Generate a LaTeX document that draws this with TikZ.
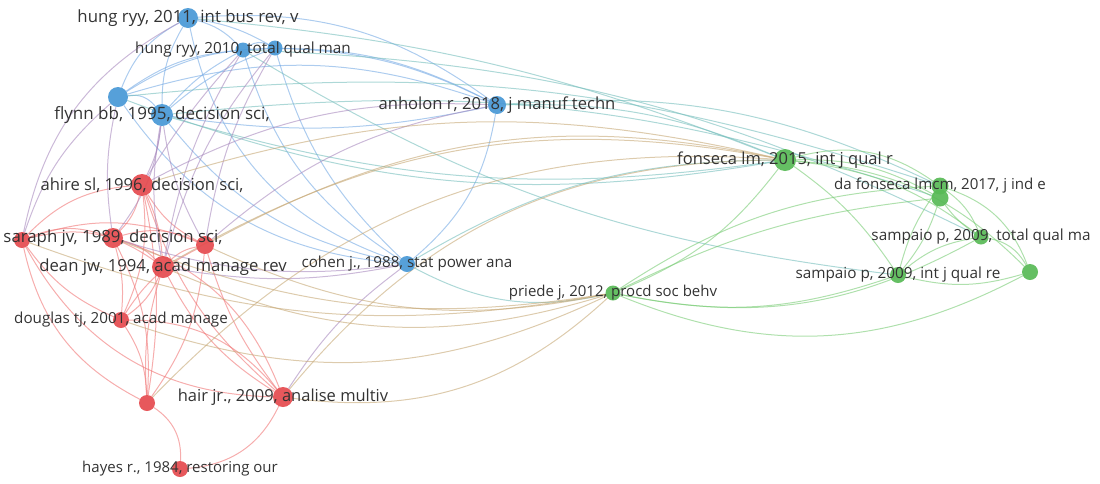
\documentclass[tikz,border=0pt]{standalone}
\usepackage{fontspec}
\setmainfont{Open Sans}
\usepackage{tikz}
\usetikzlibrary{topaths}
\pgfdeclarelayer{bg}
\pgfsetlayers{bg,main}
\definecolor{bnode}{RGB}{72,152,214}
\definecolor{rnode}{RGB}{229,74,78}
\definecolor{gnode}{RGB}{88,186,86}
\definecolor{bedge}{RGB}{118,170,228}
\definecolor{redge}{RGB}{240,118,118}
\definecolor{gedge}{RGB}{122,204,118}
\definecolor{pedge}{RGB}{168,138,190}
\definecolor{oedge}{RGB}{198,168,118}
\definecolor{tedge}{RGB}{118,190,188}
\definecolor{ltxt}{RGB}{51,51,51}
\tikzstyle{dot}=[circle,inner sep=0pt,outer sep=0pt,fill opacity=.92]
\tikzstyle{lbl}=[text=ltxt,inner sep=0pt]
\tikzstyle{lnk}=[line width=1pt,draw opacity=.6]
\tikzstyle{net}=[x=1pt,y=-1pt]

\begin{document}
\begin{tikzpicture}[net]
                    \useasboundingbox (0,0) rectangle (1100,483);
                    \foreach \p/\n/\s/\d in {{188,18}/hung11/20/bnode, {243,50}/hung10/15/bnode, {275,48}/tqm/15/bnode,
                        {118,97}/flynnA/20/bnode, {162,115}/flynn/22/bnode, {497,105}/anholon/18/bnode, {407,264}/cohen/16/bnode,
                        {142,185}/ahire/22/rnode, {22,240}/saraphA/16/rnode, {113,238}/saraph/20/rnode, {205,245}/redC/18/rnode,
                        {163,267}/dean/22/rnode, {121,320}/douglas/16/rnode, {147,403}/redD/16/rnode, {283,397}/hair/20/rnode,
                        {180,469}/hayes/16/rnode, {785,160}/fonseca/22/gnode, {940,186}/dafon/17/gnode, {940,198}/dafonB/17/gnode,
                        {981,237}/sampT/15/gnode, {898,275}/sampI/16/gnode, {1030,272}/greenE/16/gnode, {613,293}/priede/15/gnode}
                        \node[dot,fill=\d,minimum size=\s pt] (\n) at (\p) {};
                    \begin{pgfonlayer}{bg}
                        \foreach \c/\lst in {
                            bedge/{hung11/hung10/15, hung11/tqm/10, flynnA/hung11/20, flynn/hung11/15, flynnA/hung10/15, flynn/hung10/10,
                                flynnA/tqm/15, flynn/tqm/10, flynnA/flynn/30, hung10/tqm/30, hung11/anholon/20, hung10/anholon/15,
                                tqm/anholon/12, flynnA/anholon/18, flynn/anholon/-10, anholon/cohen/20, cohen/hung10/20, cohen/tqm/15,
                                flynn/cohen/-20, flynnA/cohen/-25, hung11/cohen/-30},
                            tedge/{flynnA/dafon/12, flynn/dafonB/12, hung10/sampT/12, anholon/dafon/15, anholon/fonseca/12, fonseca/flynn/12,
                                fonseca/flynnA/15, priede/cohen/20, cohen/fonseca/15, hung11/fonseca/8, hung10/sampI/-12},
                            redge/{ahire/saraph/15, ahire/dean/10, ahire/redC/-15, ahire/douglas/15, saraphA/ahire/20, ahire/redD/10,
                                ahire/hair/-15, saraph/dean/15, saraph/redC/20, saraph/douglas/10, saraphA/saraph/20, saraph/redD/15,
                                saraph/hair/25, dean/redC/15, dean/douglas/15, dean/redD/-10, dean/hair/-15, redC/douglas/-15,
                                redC/redD/15, redC/hair/-10, douglas/redD/15, douglas/hair/25, redD/hayes/30, hair/hayes/30,
                                saraphA/dean/25, saraphA/redD/-25, saraphA/douglas/-15, saraphA/redC/20, saraphA/hair/-30},
                            pedge/{flynn/ahire/10, flynn/saraph/15, flynn/dean/-10, flynn/redC/-10, flynnA/saraph/-10, saraphA/flynnA/15,
                                saraphA/hung11/25, hung10/dean/-10, tqm/redC/-10, hung10/ahire/-5, tqm/dean/-12, dean/cohen/-10,
                                hair/cohen/10, saraph/cohen/-12, ahire/anholon/15, redC/anholon/15},
                            oedge/{priede/dean/20, priede/redC/18, priede/saraph/15, priede/hair/25, priede/douglas/22, priede/saraphA/15,
                                redC/fonseca/20, dean/fonseca/20, ahire/fonseca/15, hair/fonseca/25, redD/fonseca/25},
                            gedge/{fonseca/dafon/25, fonseca/dafonB/15, fonseca/sampT/15, fonseca/sampI/10, fonseca/greenE/20,
                                priede/fonseca/-15, dafon/sampT/15, dafon/sampI/-10, dafon/greenE/25, dafonB/sampT/-10, dafonB/sampI/10,
                                sampI/sampT/15, sampT/greenE/25, sampI/greenE/-15, priede/dafon/15, priede/sampI/-15, priede/sampT/-20,
                                priede/greenE/-25, priede/dafonB/10}}
                            \foreach \a/\b/\bnd in \lst
                                \draw[lnk,\c] (\a) to[bend left=\bnd] (\b);
                    \end{pgfonlayer}
                    \foreach \n/\t/\s in {hung11/{hung ryy, 2011, int bus rev, v}/16.8, hung10/{hung ryy, 2010, total qual man}/15.3,
                        flynn/{flynn bb, 1995, decision sci,}/17, anholon/{anholon r, 2018, j manuf techn}/16.6,
                        cohen/{cohen j., 1988, stat power ana}/15.2, ahire/{ahire sl, 1996, decision sci,}/16.6,
                        saraph/{saraph jv, 1989, decision sci,}/16.8, dean/{dean jw, 1994, acad manage rev}/16.7,
                        douglas/{douglas tj, 2001, acad manage}/15.2, hair/{hair jr., 2009, analise multiv}/16.5,
                        hayes/{hayes r., 1984, restoring our}/15, fonseca/{fonseca lm, 2015, int j qual r}/16.5,
                        dafon/{da fonseca lmcm, 2017, j ind e}/15.1, sampT/{sampaio p, 2009, total qual ma}/15.3,
                        sampI/{sampaio p, 2009, int j qual re}/15.3, priede/{priede j, 2012, procd soc behv}/15}
                        \node[lbl,font={\fontsize{\s}{\s}\selectfont}] (\n-l) at (\n) {\t};
                \end{tikzpicture}
\end{document}
